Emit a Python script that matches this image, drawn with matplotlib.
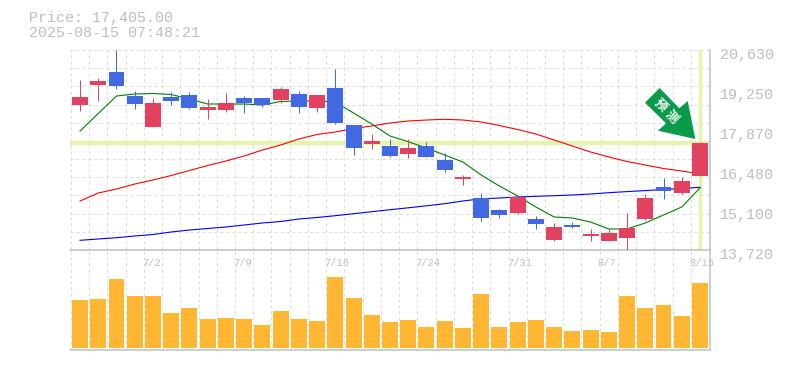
"""Candlestick chart with moving averages and a volume panel."""
import matplotlib
matplotlib.use("Agg")
import matplotlib.pyplot as plt
from matplotlib.patches import Polygon
from matplotlib.transforms import ScaledTranslation
import numpy as np

BLUE = "#4169e1"
RED = "#e2415f"
VOL = "#ffb733"
GRID = "#dcdcdc"
AXIS = "#c0c0c0"
TEXT = "#bebebe"
HILITE = "#e4f5a8"
ARROW = "#0a9a4a"
MONO = "Liberation Mono"
PX = 0.72  # one pixel in points at dpi 100

# candle body top/bottom and wick ends, one entry per session
body_top = [19003, 19559, 19870, 19041, 18799, 19006, 19075, 18661, 18799, 18972,
            18972, 19283, 19110, 19075, 19317, 18039, 17486, 17313, 17244, 17313,
            16830, 16225, 15517, 15102, 15551, 14791, 14515, 14584, 14273, 14307,
            14480, 15517, 15897, 16104, 17405]
body_bot = [18730, 19421, 19386, 18764, 17970, 18868, 18626, 18557, 18557, 18799,
            18730, 18903, 18661, 18626, 18108, 17244, 17382, 16968, 17037, 16933,
            16484, 16160, 14826, 14929, 14998, 14618, 14065, 14515, 14204, 14031,
            14135, 14791, 15759, 15689, 16277]
wick_top = [19594, 19663, 20630, 19213, 18972, 19179, 19179, 18937, 19144, 19041,
            18972, 19352, 19213, 19075, 19974, 18039, 17728, 17555, 17555, 17451,
            17071, 16311, 15689, 15137, 15551, 14895, 14653, 14687, 14446, 14446,
            14998, 15655, 16208, 16242, 17451]
wick_bot = [18510, 18868, 19283, 18592, 17970, 18730, 18592, 18246, 18488, 18453,
            18661, 18799, 18453, 18488, 18073, 17002, 17210, 16933, 16899, 16933,
            16415, 15966, 14722, 14826, 14964, 14446, 14031, 14480, 14031, 14031,
            13720, 14757, 15482, 15655, 16277]
is_up = [1, 1, 0, 0, 1, 0, 0, 1, 1, 0,
         0, 1, 0, 1, 0, 0, 1, 0, 1, 0,
         0, 1, 0, 0, 1, 0, 1, 0, 1, 1,
         1, 1, 0, 1, 1]

ma_short = [17831, 18436, 19041, 19110, 19127, 19093, 18937, 18764, 18764, 18764,
            18730, 18851, 18868, 18868, 18833, 18453, 18073, 17659, 17462, 17244,
            17002, 16760, 16311, 15931, 15586, 15206, 14860, 14826, 14687, 14446,
            14446, 14653, 14929, 15206, 15862]
ma_mid = [15413, 15689, 15828, 16000, 16138, 16294, 16467, 16639, 16795, 16968,
          17175, 17348, 17555, 17711, 17797, 17918, 18004, 18108, 18177, 18211,
          18236, 18211, 18142, 18022, 17883, 17728, 17520, 17313, 17106, 16933,
          16778, 16657, 16536, 16449, 16346]
ma_long = [14055, 14100, 14145, 14204, 14256, 14342, 14411, 14463, 14515, 14584,
           14653, 14705, 14791, 14843, 14905, 14974, 15043, 15112, 15178, 15247,
           15320, 15413, 15489, 15517, 15551, 15575, 15596, 15620, 15655, 15700,
           15738, 15772, 15810, 15845, 15886]

volume = [48, 49, 69, 52, 52, 35, 40, 29, 30, 29, 23, 37, 29, 27, 71, 50, 33, 26,
          28, 21, 27, 20, 54, 21, 26, 28, 21, 17, 18, 16, 52, 40, 43, 32, 65]

price_ticks = [13720, 15100, 16480, 17870, 19250, 20630]
price_labels = ["13,720", "15,100", "16,480", "17,870", "19,250", "20,630"]
date_pos = [4, 9, 14, 19, 24, 29, 34]
date_labels = ["7/2", "7/9", "7/16", "7/24", "7/31", "8/7", "8/15"]
last_price = 17405
title_lines = ["Price: 17,405.00", "2025-08-15 07:48:21"]

W, H = 785, 370
L, R, TOP, MID, BOT = 70, 710, 50, 250, 350


def style_axes(ax):
    for side in ("top", "left"):
        ax.spines[side].set_visible(False)
    for side in ("right", "bottom"):
        ax.spines[side].set_color(AXIS)
        ax.spines[side].set_linewidth(1.1)
    ax.set_axisbelow(True)
    ax.set_xlim(-0.55, len(volume) - 0.45)
    ax.set_xticks(np.arange(len(volume)) - 0.5, minor=True)
    ax.grid(True, which="minor", axis="x", color=GRID, linestyle=(0, (3, 3)), linewidth=PX)
    ax.tick_params(which="both", length=0)
    ax.set_facecolor("none")


def main():
    fig = plt.figure(figsize=(W / 100, H / 100), dpi=100, facecolor="white")
    ax = fig.add_axes([L / W, (H - MID) / H, (R - L) / W, (MID - TOP) / H])
    ax_vol = fig.add_axes([L / W, (H - BOT) / H, (R - L) / W, (BOT - MID) / H])
    x = np.arange(len(volume))
    colors = [RED if up else BLUE for up in is_up]

    # price panel
    style_axes(ax)
    ax.set_ylim(price_ticks[0], price_ticks[-1])
    for g in np.linspace(price_ticks[0], price_ticks[-1], 12)[1:]:
        ax.axhline(g, color=GRID, linestyle=(0, (3, 3)), linewidth=PX, zorder=0.5, clip_on=False)
    ax.axhline(last_price, color=HILITE, linewidth=3.0, zorder=1)
    ax.axvline(x[-1], color=HILITE, linewidth=2.4, zorder=1)

    for values, c in ((ma_long, "#0000ff"), (ma_mid, "#ff0000"), (ma_short, "#008000")):
        ax.plot(x, values, color=c, linewidth=0.8, zorder=2)

    ax.vlines(x, wick_bot, wick_top, colors=colors, linewidth=PX, zorder=3)
    ax.bar(x, np.array(body_top) - np.array(body_bot), bottom=body_bot, width=0.877,
           color=colors, linewidth=0, zorder=4)

    ax.yaxis.tick_right()
    ax.set_yticks(price_ticks, price_labels, family=MONO, fontsize=10.8, color=TEXT)
    ax.tick_params(axis="y", which="major", pad=7)
    shift = ScaledTranslation(0, -3.5 / 100, fig.dpi_scale_trans)
    for lab in ax.get_yticklabels():
        lab.set_transform(lab.get_transform() + shift)

    ax.set_xticks(np.array(date_pos) - 0.6, date_labels, family=MONO, fontsize=7.6,
                  color=TEXT, ha="left")
    ax.tick_params(axis="x", which="major", pad=5.5)

    # volume panel
    style_axes(ax_vol)
    ax_vol.bar(x, volume, width=0.877, color=VOL, linewidth=0, zorder=3)
    ax_vol.set_ylim(-2, 98)
    ax_vol.set_yticks([])
    ax_vol.tick_params(labelbottom=False)

    # overlay in pixel coordinates for the header and the arrow badge
    over = fig.add_axes([0, 0, 1, 1], facecolor="none")
    over.set_xlim(0, W)
    over.set_ylim(H, 0)
    over.axis("off")
    for text, y in zip(title_lines, (18, 33)):
        over.text(29, y, text, family=MONO, fontsize=10.8, color=TEXT, va="center", ha="left")
    over.add_patch(Polygon([(659.7, 88), (679.3, 108.3), (687.7, 101), (695.3, 139),
                            (658, 130.7), (666, 123.3), (645, 102.7)],
                           closed=True, facecolor=ARROW, edgecolor="none", zorder=5))
    for glyph, gx, gy in (("预", 660.7, 105), ("测", 671.7, 116.7)):
        over.text(gx, gy, glyph, family=["Noto Sans CJK SC", "DejaVu Sans"], fontsize=9,
                  fontweight="bold", color="white", rotation=-45, rotation_mode="anchor",
                  ha="center", va="center", zorder=6)

    fig.savefig("out.png", dpi=100, facecolor="white")
    plt.close(fig)


if __name__ == "__main__":
    main()
